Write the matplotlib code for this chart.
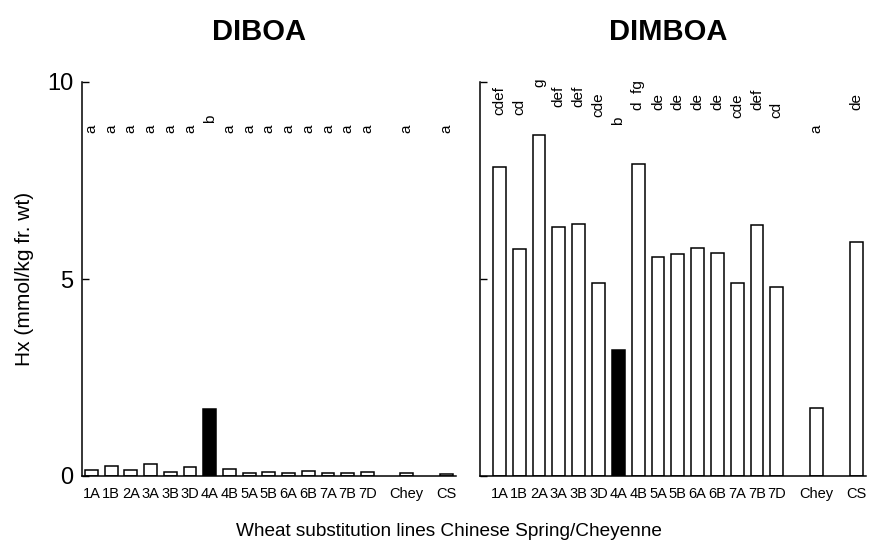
import matplotlib
matplotlib.use('Agg')
import matplotlib.pyplot as plt

plt.rcParams['font.family'] = ['Liberation Sans', 'DejaVu Sans']

categories = ['1A', '1B', '2A', '3A', '3B', '3D', '4A', '4B', '5A', '5B',
              '6A', '6B', '7A', '7B', '7D', 'Chey', 'CS']
diboa = [0.15, 0.25, 0.15, 0.30, 0.10, 0.22, 1.70, 0.18, 0.08, 0.10,
         0.08, 0.13, 0.08, 0.08, 0.10, 0.08, 0.06]
dimboa = [7.84, 5.76, 8.65, 6.32, 6.40, 4.90, 3.20, 7.92, 5.56, 5.63,
          5.79, 5.66, 4.90, 6.37, 4.80, 1.73, 5.94]
diboa_letters = ['a', 'a', 'a', 'a', 'a', 'a', 'b', 'a', 'a', 'a',
                 'a', 'a', 'a', 'a', 'a', 'a', 'a']
dimboa_letters = ['cdef', 'cd', 'g', 'def', 'def', 'cde', 'b', 'd  fg', 'de', 'de',
                  'de', 'de', 'cde', 'def', 'cd', 'a', 'de']
diboa_letter_y = [8.70, 8.70, 8.70, 8.70, 8.70, 8.70, 8.96, 8.70, 8.70, 8.70,
                  8.70, 8.70, 8.70, 8.70, 8.70, 8.70, 8.70]
dimboa_letter_y = [9.16, 9.16, 9.87, 9.37, 9.37, 9.11, 8.91, 9.29, 9.29, 9.29,
                   9.29, 9.29, 9.09, 9.29, 9.09, 8.70, 9.29]
highlight = '4A'
yticks = [0, 5, 10]

W, H = 872, 548
fig = plt.figure(figsize=(W / 100, H / 100), dpi=100)

# positions: 15 lines, then gap, Chey, gap, CS
pos = list(range(15)) + [16, 18]

ax1 = fig.add_axes([82 / W, 1 - 476 / H, 374 / W, 394 / H])
ax2 = fig.add_axes([480 / W, 1 - 476 / H, 386 / W, 394 / H])


def draw(ax, vals, letters, ly, xlim, show_labels):
    colors = ['black' if c == highlight else 'white' for c in categories]
    ax.bar(pos, vals, width=0.65, color=colors, edgecolor='black', linewidth=1.1)
    for x, t, y in zip(pos, letters, ly):
        ax.text(x, y, t, rotation=90, ha='center', va='bottom', fontsize=11,
                clip_on=False)
    ax.set_xlim(*xlim)
    ax.set_ylim(0, 10)
    ax.set_xticks(pos)
    ax.set_xticklabels(categories, fontsize=10.5)
    ax.tick_params(axis='x', length=0, pad=8)
    ax.set_yticks(yticks)
    if show_labels:
        ax.set_yticklabels([str(v) for v in yticks], fontsize=17)
    else:
        ax.set_yticklabels([])
    ax.tick_params(axis='y', direction='in', length=5, width=1.0, pad=6)
    for s in ['top', 'right']:
        ax.spines[s].set_visible(False)
    ax.spines['left'].set_linewidth(1.1)
    ax.spines['bottom'].set_linewidth(1.1)


draw(ax1, diboa, diboa_letters, diboa_letter_y, (-0.48, 18.5), True)
draw(ax2, dimboa, dimboa_letters, dimboa_letter_y, (-0.98, 18.5), False)

ax1.set_ylabel('Hx (mmol/kg fr. wt)', fontsize=15, labelpad=10)

fig.text(259 / W, 1 - 32 / H, 'DIBOA', fontsize=21, fontweight='bold',
         ha='center', va='center')
fig.text(668 / W, 1 - 32 / H, 'DIMBOA', fontsize=21, fontweight='bold',
         ha='center', va='center')
fig.text(449 / W, 1 - 531 / H, 'Wheat substitution lines Chinese Spring/Cheyenne',
         fontsize=13.7, ha='center', va='center')

fig.savefig('out.png', dpi=100)
